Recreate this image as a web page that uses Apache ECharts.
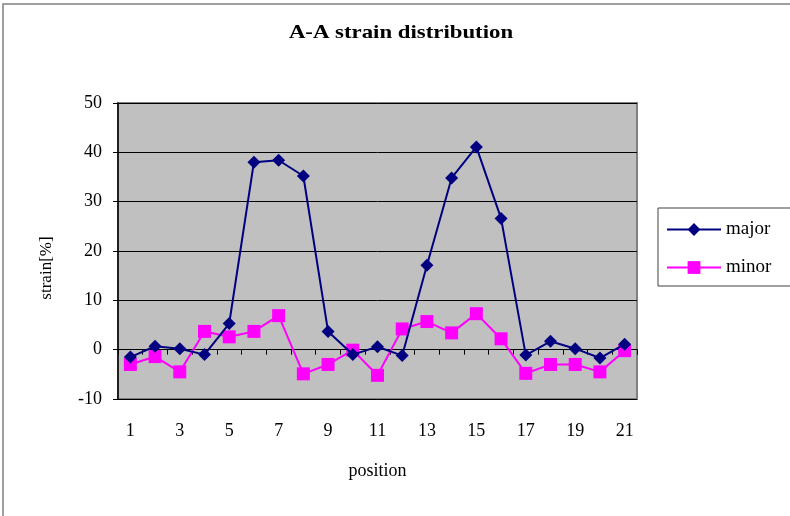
<!DOCTYPE html>
<html>
<head>
<meta charset="utf-8">
<script src="https://cdn.jsdelivr.net/npm/echarts@6/dist/echarts.min.js"></script>
<style>
  html, body { margin: 0; padding: 0; background: #fff; }
  #chart { width: 790px; height: 516px; }
</style>
</head>
<body>
<div id="chart"></div>
<script>
// Measurement positions along section A-A
const positions = ['1','2','3','4','5','6','7','8','9','10','11','12','13','14','15','16','17','18','19','20','21'];
// Major and minor strain in percent
const majorStrain = [-1.5, 0.7, 0.2, -1.0, 5.3, 38.0, 38.4, 35.2, 3.7, -1.0, 0.6, -1.2, 17.1, 34.8, 41.1, 26.6, -1.1, 1.7, 0.2, -1.7, 1.1];
const minorStrain = [-3.0, -1.4, -4.5, 3.7, 2.6, 3.7, 6.9, -4.9, -3.0, -0.1, -5.2, 4.2, 5.7, 3.4, 7.3, 2.2, -4.8, -3.0, -3.0, -4.5, -0.2];
// Value axis range and step
const yMin = -10, yMax = 50, yStep = 10;

const serif = '"Liberation Serif", "DejaVu Serif", serif';
const chart = echarts.init(document.getElementById('chart'), null, { renderer: 'canvas' });

chart.setOption({
  animation: false,
  backgroundColor: '#ffffff',
  textStyle: { fontFamily: serif },
  graphic: [{
    // outer chart frame
    type: 'rect', silent: true, z: -1,
    shape: { x: 3, y: 4, width: 790, height: 520 },
    style: { fill: 'none', stroke: '#808080', lineWidth: 1.5 }
  }, {
    // chart title, widened a little
    type: 'text', silent: true,
    x: 401, y: 33, scaleX: 1.2,
    style: {
      text: 'A-A strain distribution',
      fill: '#000', font: 'bold 19px ' + serif,
      align: 'center', verticalAlign: 'middle'
    }
  }, {
    // value axis title
    type: 'text', silent: true,
    x: 47, y: 268, rotation: Math.PI / 2,
    style: {
      text: 'strain[%]',
      fill: '#000', font: '17px ' + serif,
      align: 'center', verticalAlign: 'middle'
    }
  }],
  legend: {
    orient: 'vertical',
    left: 658, top: 208,
    padding: [12, 20, 9, 8],
    itemGap: 19,
    itemWidth: 54, itemHeight: 16,
    borderColor: '#404040', borderWidth: 1,
    backgroundColor: '#ffffff',
    textStyle: { fontFamily: serif, fontSize: 19, color: '#000' },
    data: ['major', 'minor']
  },
  grid: {
    left: 118, top: 103, width: 519, height: 296,
    show: true, backgroundColor: '#c0c0c0',
    borderColor: '#808080', borderWidth: 2
  },
  xAxis: [{
    type: 'category',
    data: positions,
    boundaryGap: true,
    position: 'bottom',
    name: 'position', nameLocation: 'middle', nameGap: 63,
    nameTextStyle: { fontFamily: serif, fontSize: 18, color: '#000' },
    axisLine: { show: false, onZero: false },
    axisTick: { show: false },
    axisLabel: { interval: 1, margin: 23, fontFamily: serif, fontSize: 18, color: '#000' },
    splitLine: { show: false }
  }, {
    type: 'category',
    data: positions,
    boundaryGap: true,
    position: 'bottom',
    axisLine: { show: true, onZero: true, lineStyle: { color: '#000', width: 1 } },
    axisTick: { show: true, length: 5, interval: 0, lineStyle: { color: '#000' } },
    axisLabel: { show: false },
    splitLine: { show: false }
  }],
  yAxis: {
    type: 'value',
    min: yMin, max: yMax, interval: yStep,
    axisLine: { show: true, lineStyle: { color: '#000', width: 1.5 } },
    axisTick: { show: true, length: 5, lineStyle: { color: '#000' } },
    axisLabel: { margin: 16, fontFamily: serif, fontSize: 18, color: '#000' },
    splitLine: { show: true, lineStyle: { color: '#000', width: 1 } }
  },
  series: [{
    name: 'major', type: 'line', xAxisIndex: 0,
    data: majorStrain,
    symbol: 'diamond', symbolSize: 13,
    color: '#000080',
    lineStyle: { color: '#000080', width: 2 },
    itemStyle: { color: '#000080' },
    z: 3
  }, {
    name: 'minor', type: 'line', xAxisIndex: 0,
    data: minorStrain,
    symbol: 'rect', symbolSize: 13,
    color: '#ff00ff',
    lineStyle: { color: '#ff00ff', width: 2 },
    itemStyle: { color: '#ff00ff' },
    z: 2
  }]
});
</script>
</body>
</html>
